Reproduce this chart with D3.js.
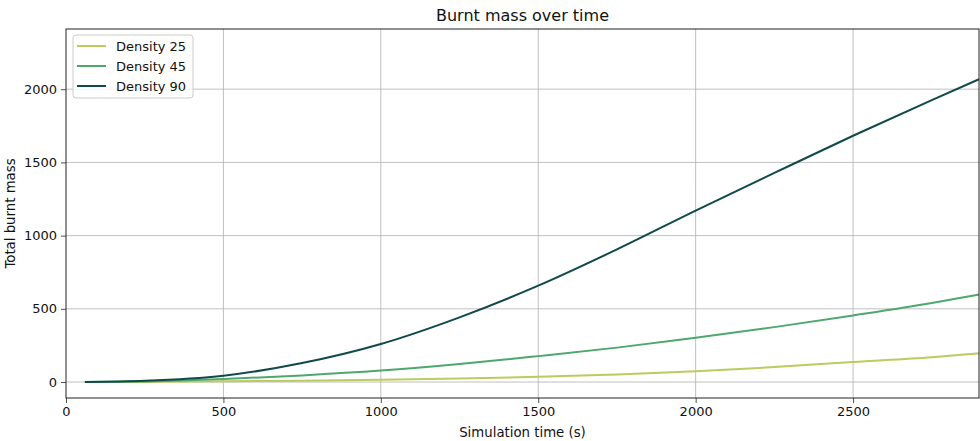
<!DOCTYPE html>
<html><head><meta charset="utf-8">
<script src="https://cdn.jsdelivr.net/npm/d3@7"></script>
<style>body{margin:0;background:#fff;} text{font-family:"DejaVu Sans",sans-serif;}</style>
</head><body>
<svg id="c" width="980" height="441"></svg>
<script>
const times = [60, 250, 500, 750, 1000, 1250, 1500, 1750, 2000, 2250, 2500, 2750, 2900];
const density25 = [0, 1, 5, 9, 15, 24, 36, 52, 73, 102, 137, 170, 196];
const density45 = [0, 4, 20, 45, 78, 123, 177, 235, 303, 375, 455, 540, 598];
const density90 = [0, 8, 43, 130, 260, 442, 658, 906, 1171, 1428, 1682, 1925, 2068];
const seriesNames = ["Density 25", "Density 45", "Density 90"];
const colors = ["#bccb5e", "#4ea76c", "#11494a"];
const xTicks = [0, 500, 1000, 1500, 2000, 2500];
const yTicks = [0, 500, 1000, 1500, 2000];

const svg = d3.select("#c");
const L = 66, R = 979, T = 29, B = 398;
const x = d3.scaleLinear().domain([0, 2900]).range([L, R]);
const y = d3.scaleLinear().domain([-109, 2411]).range([B, T]);

// grid
svg.append("g").selectAll("line").data(xTicks.filter(d=>d>0)).join("line")
  .attr("x1", d=>x(d)).attr("x2", d=>x(d)).attr("y1", T).attr("y2", B)
  .attr("stroke", "#b0b0b0").attr("stroke-width", 0.8);
svg.append("g").selectAll("line").data(yTicks).join("line")
  .attr("x1", L).attr("x2", R).attr("y1", d=>y(d)).attr("y2", d=>y(d))
  .attr("stroke", "#b0b0b0").attr("stroke-width", 0.8);

const series = [density25, density45, density90];
const line = d3.line().x((d,i)=>x(times[i])).y(d=>y(d)).curve(d3.curveMonotoneX);
series.forEach((s, k) => {
  svg.append("path").datum(s).attr("d", line).attr("fill", "none")
    .attr("stroke", colors[k]).attr("stroke-width", 2);
});

// axes
const fmt = d3.format("d");
const xa = svg.append("g").attr("transform", `translate(0,${B})`)
  .call(d3.axisBottom(x).tickValues(xTicks).tickFormat(fmt).tickSize(5).tickPadding(4));
const ya = svg.append("g").attr("transform", `translate(${L},0)`)
  .call(d3.axisLeft(y).tickValues(yTicks).tickFormat(fmt).tickSize(5).tickPadding(4));
[xa, ya].forEach(a => {
  a.select(".domain").remove();
  a.selectAll("line").attr("stroke", "#222").attr("stroke-width", 0.8);
  a.selectAll("text").attr("font-size", 13).attr("fill", "#111").attr("font-family", "DejaVu Sans");
});
svg.append("rect").attr("x", L).attr("y", T).attr("width", R-L).attr("height", B-T)
  .attr("fill", "none").attr("stroke", "#222").attr("stroke-width", 1);

// labels
svg.append("text").attr("x", (L+R)/2).attr("y", 21).attr("text-anchor", "middle")
  .attr("font-size", 16).attr("fill", "#111").text("Burnt mass over time");
svg.append("text").attr("x", (L+R)/2).attr("y", 437).attr("text-anchor", "middle")
  .attr("font-size", 13.3).attr("fill", "#111").text("Simulation time (s)");
svg.append("text").attr("transform", `translate(15,${(T+B)/2}) rotate(-90)`).attr("text-anchor", "middle")
  .attr("font-size", 13.3).attr("fill", "#111").text("Total burnt mass");

// legend
const lg = svg.append("g");
lg.append("rect").attr("x", 73).attr("y", 35).attr("width", 120).attr("height", 63).attr("rx", 3)
  .attr("fill", "#fff").attr("fill-opacity", 0.8).attr("stroke", "#ccc").attr("stroke-width", 1);
seriesNames.forEach((n, k) => {
  const yy = 46 + k*20;
  lg.append("line").attr("x1", 77).attr("x2", 106).attr("y1", yy).attr("y2", yy)
    .attr("stroke", colors[k]).attr("stroke-width", 2);
  lg.append("text").attr("x", 116).attr("y", yy+5).attr("font-size", 13).attr("fill", "#111").text(n);
});
</script>
</body></html>
